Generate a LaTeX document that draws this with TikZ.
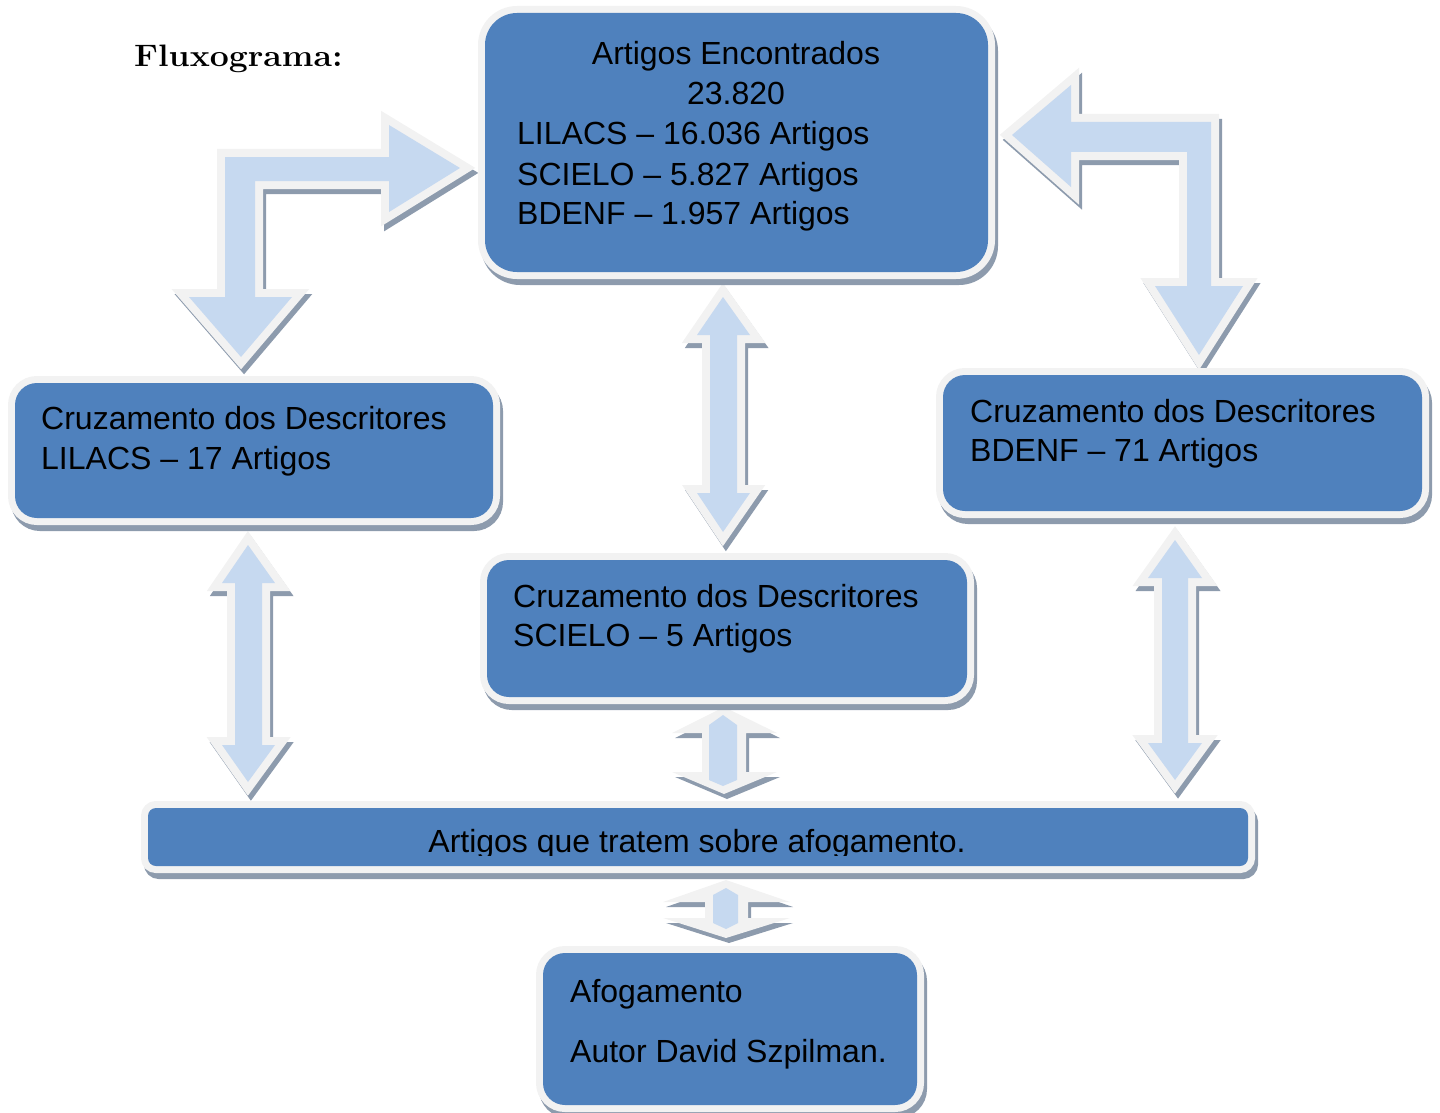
\documentclass[tikz,border=0pt]{standalone}
\usepackage{fontspec}
\newfontfamily\arialf{Liberation Sans}
\definecolor{boxblue}{RGB}{79,129,189}
\definecolor{lightb}{RGB}{242,242,242}
\definecolor{shad}{RGB}{141,155,173}
\definecolor{arrfill}{RGB}{198,217,240}
\begin{document}
\begin{tikzpicture}[x=1pt,y=-1pt,
  box/.style={shape=rectangle, fill=boxblue,
    inner sep=0pt, outer sep=0pt,
    preaction={draw=shad, fill=shad, line width=14pt,
      transform canvas={xshift=3pt,yshift=-6pt}},
    preaction={draw=lightb, line width=14pt}},
  blockarrow/.style={fill=arrfill, line join=miter,
    preaction={draw=shad, fill=shad, line width=16pt, line join=miter,
      transform canvas={xshift=3pt,yshift=-5pt}},
    preaction={draw=lightb, line width=16pt, line join=miter}},
  txt/.style={font=\arialf\fontsize{32}{39.5}\selectfont, inner sep=0pt, text=black}]
\useasboundingbox (0,0) rectangle (1440,1113);

% ---- block arrows ----
% left bent arrow
\path[blockarrow] (189,297) -- (241,357) -- (292,297) -- (255,297) -- (255,181)
  -- (389,181) -- (389,212) -- (460,168) -- (389,125) -- (389,157) -- (225,157)
  -- (225,297) -- cycle;
% right bent arrow
\path[blockarrow] (1012,135) -- (1071,85) -- (1071,122) -- (1211,122) -- (1211,286)
  -- (1243,286) -- (1199,355) -- (1155,286) -- (1187,286) -- (1187,152)
  -- (1071,152) -- (1071,187) -- cycle;
% middle double arrow
\path[blockarrow] (723,297) -- (750,335) -- (737,335) -- (737,493) -- (750,493)
  -- (723,532) -- (697,493) -- (710,493) -- (710,335) -- (697,335) -- cycle;
% left double arrow
\path[blockarrow] (248,545) -- (275,583) -- (262,583) -- (262,745) -- (275,745)
  -- (248,782) -- (222,745) -- (235,745) -- (235,583) -- (222,583) -- cycle;
% right double arrow
\path[blockarrow] (1175,540) -- (1202,578) -- (1188,578) -- (1188,743) -- (1202,743)
  -- (1175,780) -- (1148,743) -- (1162,743) -- (1162,578) -- (1148,578) -- cycle;
% small double arrow F
\fill[shad, transform canvas={xshift=3pt,yshift=-5pt}] (724,707) -- (777,733) -- (746,733) -- (746,772)
  -- (777,772) -- (724,794) -- (672,772) -- (702,772) -- (702,733) -- (672,733) -- cycle;
\fill[lightb] (724,707) -- (777,733) -- (746,733) -- (746,772)
  -- (777,772) -- (724,794) -- (672,772) -- (702,772) -- (702,733) -- (672,733) -- cycle;
\fill[arrfill] (723,715) -- (737,725) -- (737,780) -- (723,786) -- (709,780) -- (709,725) -- cycle;
% small double arrow G
\fill[shad, transform canvas={xshift=3pt,yshift=-5pt}] (726,880) -- (790,902) -- (748,902) -- (748,918)
  -- (790,918) -- (726,938) -- (663,918) -- (705,918) -- (705,902) -- (663,902) -- cycle;
\fill[lightb] (726,880) -- (790,902) -- (748,902) -- (748,918)
  -- (790,918) -- (726,938) -- (663,918) -- (705,918) -- (705,902) -- (663,902) -- cycle;
\fill[arrfill] (726,888) -- (738,895) -- (738,923) -- (726,929) -- (713,923) -- (713,895) -- cycle;

% ---- boxes ----
\node[box, minimum width=503pt, minimum height=259pt, rounded corners=32pt] (top) at (736.5,142.5) {};
\node[box, minimum width=478pt, minimum height=135pt, rounded corners=22pt] (left) at (254,450.5) {};
\node[box, minimum width=479pt, minimum height=136pt, rounded corners=22pt] (right) at (1182.5,443) {};
\node[box, minimum width=480pt, minimum height=137pt, rounded corners=22pt] (mid) at (727,628.5) {};
\node[box, minimum width=1100pt, minimum height=58pt, rounded corners=8pt] (wide) at (698,837) {};
\node[box, minimum width=374pt, minimum height=152pt, rounded corners=22pt] (bot) at (730,1029) {};

% ---- texts ----
\node[anchor=base west, inner sep=0pt, font=\bfseries\fontsize{31}{36}\selectfont] (title) at (134,67) {\scalebox{1.09}[1]{Fluxograma:}};

\node[txt, anchor=base] (t1) at (736,65) {Artigos Encontrados};
\node[txt, anchor=base] (t2) at (736,105) {23.820};
\node[txt, anchor=base west] (t3) at (517,145) {LILACS – 16.036 Artigos};
\node[txt, anchor=base west] (t4) at (517,185) {SCIELO – 5.827 Artigos};
\node[txt, anchor=base west] (t5) at (517,224) {BDENF – 1.957 Artigos};

\node[txt, anchor=base west] (l1) at (41,429) {Cruzamento dos Descritores};
\node[txt, anchor=base west] (l2) at (41,469) {LILACS – 17 Artigos};

\node[txt, anchor=base west] (r1) at (970,422) {Cruzamento dos Descritores};
\node[txt, anchor=base west] (r2) at (970,461) {BDENF – 71 Artigos};

\node[txt, anchor=base west] (m1) at (513,607) {Cruzamento dos Descritores};
\node[txt, anchor=base west] (m2) at (513,646) {SCIELO – 5 Artigos};

\begin{scope}
\clip (148,808) rectangle (1248,855);
\node[txt, anchor=base] (w1) at (697,852) {Artigos que tratem sobre afogamento.};
\end{scope}

\node[txt, anchor=base west] (b1) at (570,1002) {Afogamento};
\node[txt, anchor=base west] (b2) at (570,1062) {Autor David Szpilman.};
\end{tikzpicture}
\end{document}
